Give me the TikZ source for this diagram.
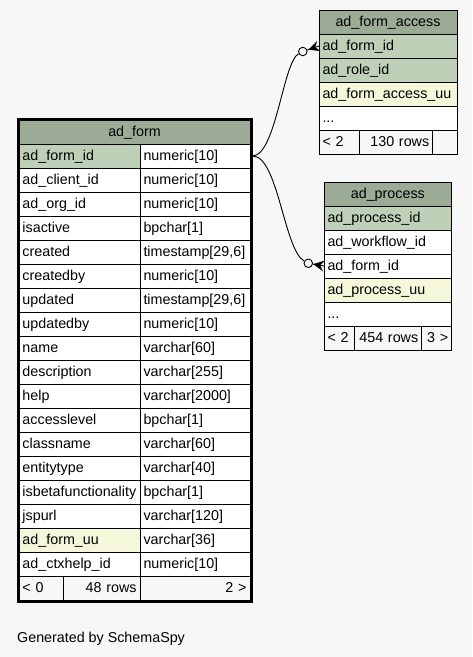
\documentclass[tikz,border=0pt]{standalone}
\usepackage{fontspec}
\setmainfont{Liberation Sans}
\usetikzlibrary{fit,calc}
\definecolor{bgc}{HTML}{F7F7F7}
\definecolor{hdrc}{HTML}{9BAB96}
\definecolor{keyc}{HTML}{BED1B8}
\definecolor{idxc}{HTML}{F4F7DA}
\tikzset{
  cellbase/.style={draw=black, line width=0.8pt, anchor=north west, outer sep=0pt,
    minimum height=24pt, inner xsep=3.5pt, inner ysep=0pt, text height=11pt, text depth=3pt,
    font=\fontsize{14.3pt}{16pt}\selectfont},
  lcell/.style={cellbase, text width=#1, align=left},
  rcell/.style={cellbase, text width=#1, align=right},
  hcell/.style={cellbase, text width=#1, align=center, fill=hdrc},
  conn/.style={draw=black, line width=0.9pt},
  odot/.style={circle, draw=black, line width=0.9pt, fill=bgc, inner sep=0pt, minimum size=8.5pt},
  crowfoot/.pic={\fill[black] (-11,0) -- (0,-5.5) -- (-4,0) -- (0,5.5) -- cycle;},
}
\begin{document}
\begin{tikzpicture}[x=1pt,y=-1pt]
\fill[bgc] (0,0) rectangle (472,657);
\useasboundingbox (0,0) rectangle (472,657);

% ---------- ad_form ----------
\node[hcell=224pt] (af-h) at (19,120) {ad\_form};
\foreach \n/\t/\c [count=\i] in {
  ad\_form\_id/numeric[10]/keyc,
  ad\_client\_id/numeric[10]/white,
  ad\_org\_id/numeric[10]/white,
  isactive/bpchar[1]/white,
  created/{timestamp[29,6]}/white,
  createdby/numeric[10]/white,
  updated/{timestamp[29,6]}/white,
  updatedby/numeric[10]/white,
  name/varchar[60]/white,
  description/varchar[255]/white,
  help/varchar[2000]/white,
  accesslevel/bpchar[1]/white,
  classname/varchar[60]/white,
  entitytype/varchar[40]/white,
  isbetafunctionality/bpchar[1]/white,
  jspurl/varchar[120]/white,
  ad\_form\_uu/varchar[36]/idxc,
  ad\_ctxhelp\_id/numeric[10]/white}{
  \node[lcell=114pt, fill=\c] (af-n\i) at (19,{120+24*\i}) {\n};
  \node[lcell=103pt, fill=white] (af-t\i) at (140,{120+24*\i}) {\t};
}
\node[lcell=37.3pt, fill=bgc] (af-f1) at (19,576) {< 0};
\node[rcell=69.7pt, fill=bgc] (af-f2) at (63.3,576) {48 rows};
\node[rcell=103pt, fill=bgc] (af-f3) at (140,576) {2 >};
\node[draw=black, line width=2.6pt, fit=(af-h)(af-f3), inner sep=1.2pt] (adform) {};

% ---------- ad_form_access ----------
\node[hcell=131pt] (aa-h) at (319,10) {ad\_form\_access};
\node[lcell=131pt, fill=keyc] (aa-n1) at (319,34) {ad\_form\_id};
\node[lcell=131pt, fill=keyc] (aa-n2) at (319,58) {ad\_role\_id};
\node[lcell=131pt, fill=idxc] (aa-n3) at (319,82) {ad\_form\_access\_uu};
\node[lcell=131pt, fill=white] (aa-n4) at (319,106) {...};
\node[lcell=33pt, fill=bgc] (aa-f1) at (319,130) {< 2};
\node[rcell=66.7pt, fill=bgc] (aa-f2) at (359,130) {130 rows};
\node[rcell=17.3pt, fill=bgc] (aa-f3) at (432.7,130) {};

% ---------- ad_process ----------
\node[hcell=120.7pt] (ap-h) at (324,182) {ad\_process};
\node[lcell=120.7pt, fill=keyc] (ap-n1) at (324,206) {ad\_process\_id};
\node[lcell=120.7pt, fill=white] (ap-n2) at (324,230) {ad\_workflow\_id};
\node[lcell=120.7pt, fill=white] (ap-n3) at (324,254) {ad\_form\_id};
\node[lcell=120.7pt, fill=idxc] (ap-n4) at (324,278) {ad\_process\_uu};
\node[lcell=120.7pt, fill=white] (ap-n5) at (324,302) {...};
\node[lcell=23pt, fill=bgc] (ap-f1) at (324,326) {< 2};
\node[rcell=60.7pt, fill=bgc] (ap-f2) at (354,326) {454 rows};
\node[rcell=23pt, fill=bgc] (ap-f3) at (421.7,326) {3 >};

% ---------- connectors ----------
\coordinate (p0) at (adform.east |- af-n1.center);
\node[odot] (c1) at (302.8,51.5) {};
\node[odot] (c2) at (308.3,263.3) {};
\draw[conn] (p0) .. controls (276,155.5) and (283,62) .. (c1);
\draw[conn] (p0) .. controls (278,155.5) and (284,250) .. (c2);
\draw[conn] (c1) -- (aa-n1.west);
\draw[conn] (c2) -- (ap-n3.west);
\pic[rotate=19] at (aa-n1.west) {crowfoot};
\pic[rotate=-10] at (ap-n3.west) {crowfoot};

\node[anchor=base west, inner sep=0pt, font=\fontsize{14.3pt}{16pt}\selectfont] (gen) at (17,642) {Generated by SchemaSpy};
\end{tikzpicture}
\end{document}
